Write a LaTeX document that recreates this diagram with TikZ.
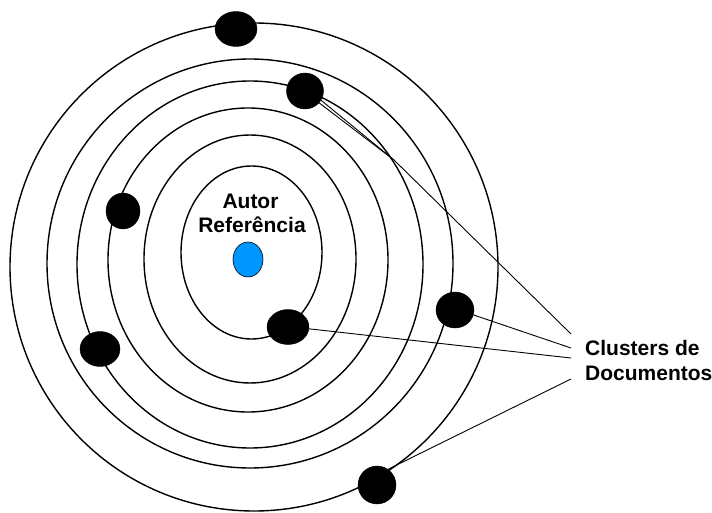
\documentclass[tikz,border=0pt]{standalone}
\usepackage{fontspec}
\setmainfont{Liberation Sans}
\usetikzlibrary{shapes.geometric}
\definecolor{autorblue}{RGB}{0,150,255}
\begin{document}
\begin{tikzpicture}[x=1pt,y=-1pt,
  orbit/.style={draw=black,line width=1.4pt},
  blob/.style={ellipse,fill=black,draw=black,inner sep=0pt},
  conn/.style={draw=black,line width=0.9pt},
  lbl/.style={font=\fontsize{21}{25}\selectfont\bfseries,inner sep=0pt}]
\useasboundingbox (0,0) rectangle (712,513);
% orbits
\draw[orbit] (251.5,252.5) ellipse [x radius=70.5, y radius=86.5];
\draw[orbit] (250,259) ellipse [x radius=106, y radius=124];
\draw[orbit] (248,260) ellipse [x radius=140, y radius=152];
\draw[orbit] (250,264.5) ellipse [x radius=173, y radius=183.5];
\draw[orbit] (250,263.5) ellipse [x radius=203, y radius=204.5];
\draw[orbit] (254,267) ellipse [x radius=244, y radius=244];
% author
\node[ellipse,fill=autorblue,draw=black,line width=0.6pt,minimum width=30pt,minimum height=35pt,inner sep=0pt] (autor) at (248,259.5) {};
\node[lbl,anchor=base] (t1) at (250.5,208) {Autor};
\node[lbl,anchor=base] (t2) at (252,233) {Referência};
% clusters
\node[blob,minimum width=42pt,minimum height=35pt] (b1) at (236,29) {};
\node[blob,minimum width=37pt,minimum height=36pt] (b2) at (305,91) {};
\node[blob,minimum width=34pt,minimum height=36pt] (b3) at (123,211) {};
\node[blob,minimum width=40pt,minimum height=35pt] (b4) at (100,349) {};
\node[blob,minimum width=42pt,minimum height=35pt] (b5) at (288,327) {};
\node[blob,minimum width=38pt,minimum height=36pt] (b6) at (455,310) {};
\node[blob,minimum width=38pt,minimum height=38pt] (b7) at (377,485) {};
% label
\node[lbl,anchor=base west] (c1) at (585,355) {Clusters de};
\node[lbl,anchor=base west] (c2) at (585,380) {Documentos};
\coordinate (e1) at (571,334);
\coordinate (e2) at (571,348);
\coordinate (e3) at (571,358);
\coordinate (e4) at (571,379);
\coordinate (m2) at (394,160);
% connectors
\draw[conn] (b2.-30) -- (m2) -- (e1);
\draw[conn] (b2.-40) -- (m2);
\draw[conn] (b6.-15) -- (e2);
\draw[conn] (b5.-5) -- (e3);
\draw[conn] (b7.55) -- (e4);
\end{tikzpicture}
\end{document}
